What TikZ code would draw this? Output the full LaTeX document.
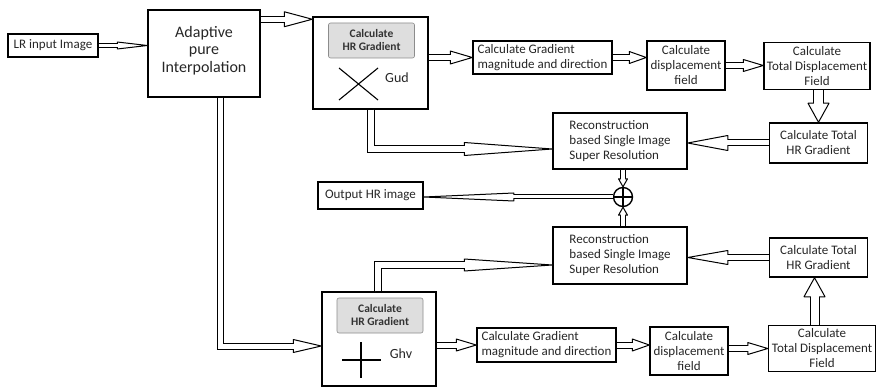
\documentclass[tikz,border=0pt]{standalone}
\usepackage{fontspec}
\setmainfont{Carlito}
\usetikzlibrary{decorations.markings}
\begin{document}
\begin{tikzpicture}[x=1pt, y=-1pt,
  box/.style 2 args={draw, line width=1.5pt, inner sep=0pt, align=center,
    minimum width=#1pt, minimum height=#2pt,
    font=\fontsize{13}{15}\selectfont, text=black!85},
  lbox/.style 2 args={box={#1}{#2}, align=left},
  graybox/.style={draw=black!45, fill=black!13, rounded corners=2pt,
    line width=0.6pt, inner sep=0pt, minimum width=86pt, minimum height=35pt,
    align=center, font=\bfseries\fontsize{11.5}{13}\selectfont, text=black!80},
  % hollow "pipe" connector: #1 = inner gap, #2 = head length, #3 = head width
  pipe/.style n args={3}{
    draw=black, line width=#1pt+2pt, shorten >=#2pt,
    postaction={decorate, decoration={markings, mark=at position 1 with {
      \draw[draw=black, fill=white, line width=1pt, line join=round,
            shorten >=0pt, shorten <=0pt]
        (0,0) -- (-#2,#3/2) -- (-#2,-#3/2) -- cycle;}}},
    postaction={draw=white, line width=#1pt, shorten >=#2pt-1.2pt}},
]
\useasboundingbox (0,0) rectangle (877,387);

% ---- blocks ----
\node[box={90}{23}]  (lr)    at (53,45.5)   {LR input Image};
\node[box={112}{87}] (adapt) at (204,53.5)  {};
\node[align=center, font=\fontsize{16}{17.5}\selectfont, text=black!85]
      (adaptT) at (204,50.5) {Adaptive\\pure\\Interpolation};

\node[box={115}{92}] (g1)   at (370.5,63) {};
\node[graybox]       (g1in) at (371.5,40.5) {Calculate\\HR Gradient};
\node[font=\fontsize{14}{15}\selectfont, text=black!85] (gud) at (397,78) {Gud};

\node[lbox={139}{33}] (m1) at (542.5,57.5) {Calculate Gradient\\magnitude and direction};
\node[box={78}{49}]   (d1) at (686,65.5)   {Calculate\\displacement\\field};
\node[box={106}{47}]  (t1) at (817,66)     {Calculate\\Total Displacement\\Field};
\node[box={98}{40}]   (h1) at (818.5,143)  {Calculate Total\\HR Gradient};

\node[lbox={134}{56}] (r1) at (620,141) {Reconstruction\\based Single Image\\Super Resolution};
\node[draw, circle, line width=1.4pt, minimum size=19pt, inner sep=0pt] (circ) at (623,197) {};
\node[box={105}{27}]  (out) at (370.5,195.5) {Output HR image};
\node[lbox={134}{57}] (r2) at (620,255.5) {Reconstruction\\based Single Image\\Super Resolution};
\node[box={98}{39}]   (h2) at (818.5,257.5) {Calculate Total\\HR Gradient};

\node[box={114}{94}] (g2)   at (379,339) {};
\node[graybox]       (g2in) at (380,315.5) {Calculate\\HR Gradient};
\node[font=\fontsize{14}{15}\selectfont, text=black!85] (ghv) at (401,354) {Ghv};

\node[lbox={139}{34}] (m2) at (546.5,345) {Calculate Gradient\\magnitude and direction};
\node[box={78}{48}]   (d2) at (689,351)   {Calculate\\displacement\\field};
\node[box={107}{46}]  (t2) at (822,348.5) {Calculate\\Total Displacement\\Field};

% ---- symbols inside blocks ----
\draw[line width=1.1pt] (339,68) -- (378,100) (339,100) -- (378,68);
\draw[line width=1.1pt] (342,360) -- (381,360) (361,342) -- (361,378);
\draw[line width=1.1pt] (circ.north) -- (circ.south) (circ.west) -- (circ.east);

% ---- connectors ----
\coordinate (a1) at ([yshift=-10pt]adapt.north east);
\coordinate (a2) at ([xshift=16pt]adapt.south);
\coordinate (g1b) at (g1.south);
\coordinate (g2t) at ([xshift=-1pt]g2.north);

\draw[pipe={3}{30}{7}]   (lr.east) -- (lr.east -| adapt.west);
\draw[pipe={5}{28}{15}]  (a1) -- (a1 -| g1.west);
\draw[pipe={5}{28}{13}]  (a2) |- ([yshift=-7pt]g2.west);
\draw[pipe={5}{22}{13}]  (m1.west -| g1.east) -- (m1.west);
\draw[pipe={5}{17}{12}]  (m1.east) -- (m1.east -| d1.west);
\draw[pipe={5}{20}{12}]  (d1.east) -- (d1.east -| t1.west);
\draw[pipe={9}{19}{21}]  (t1.south -| h1.south) -- (h1.north);
\draw[pipe={5}{40}{15}]  (h1.west) -- (h1.west -| r1.east);
\draw[pipe={6}{88}{13}]  (g1b) |- ([yshift=-8pt]r1.west);
\draw[pipe={3.5}{8}{9}]  (circ.north |- r1.south) -- (circ.north);
\draw[pipe={3.5}{8}{9}]  (circ.south |- r2.north) -- (circ.south);
\draw[pipe={3}{90}{8}]   (circ.west) -- (circ.west -| out.east);
\draw[pipe={6}{88}{12}]  (g2t) |- ([yshift=-9.5pt]r2.west);
\draw[pipe={5}{20}{12}]  (m2.west -| g2.east) -- (m2.west);
\draw[pipe={5}{17}{12}]  (m2.east) -- (m2.east -| d2.west);
\draw[pipe={5}{20}{12}]  (t2.west -| d2.east) -- (t2.west);
\draw[pipe={8}{19}{21}]  ([xshift=-4pt]h2.south |- t2.north) -- ([xshift=-4pt]h2.south);
\draw[pipe={5}{40}{14}]  (h2.west) -- (h2.west -| r2.east);
\end{tikzpicture}
\end{document}
